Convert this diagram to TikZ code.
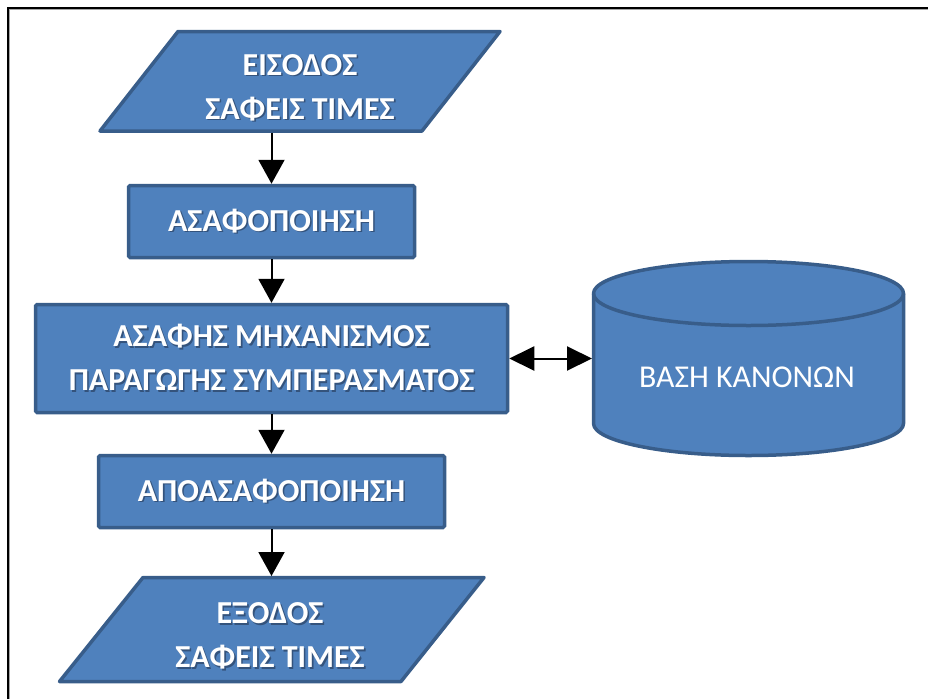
\documentclass[tikz,border=0pt]{standalone}
\usepackage{fontspec}
\setmainfont{Carlito}
\usetikzlibrary{arrows.meta,calc}
\definecolor{shapefill}{HTML}{4F81BD}
\definecolor{shapeline}{HTML}{385D8A}
\definecolor{txtshadow}{HTML}{34537C}
% white caption with a soft drop shadow to the lower right
\newcommand\shline[1]{\makebox[0pt][l]{\kern1.6pt\raisebox{-1.6pt}{\textcolor{txtshadow}{#1}}}#1}

\begin{document}
\begin{tikzpicture}[x=1pt,y=-1pt,
  box/.style={draw=shapeline, fill=shapefill, line width=3.5pt, rounded corners=1.5pt, inner sep=0pt},
  shapeline/.style={draw=shapeline, fill=shapefill, line width=3.5pt, line join=round},
  frame/.style={inner sep=0pt, outer sep=0pt},
  flowtext/.style={text=white, font=\bfseries\fontsize{32}{44}\selectfont, align=center, inner sep=0pt},
  plaintext/.style={text=white, font=\fontsize{31.8}{36}\selectfont, inner sep=0pt},
  flow/.style={line width=2pt, -{Triangle[width=26pt,length=24pt]}},
  biflow/.style={line width=2pt, {Triangle[width=24pt,length=25pt]}-{Triangle[width=24pt,length=25pt]}}]
\useasboundingbox (0,0) rectangle (928,699);

% page border
\draw[black!35, line width=1pt] (9.5,699) -- (9.5,9.5) -- (928,9.5);
\draw[black, line width=2pt] (7.5,699) -- (7.5,7.5) -- (928,7.5);

% input: data parallelogram
\node[frame, minimum width=400pt, minimum height=99.5pt] (in) at (300,81.25) {};
\path[shapeline] ([xshift=78pt]in.north west) -- (in.north east)
  -- ([xshift=-78pt]in.south east) -- (in.south west) -- cycle;
\node[flowtext] (inT) at (300,88.5) {\shline{ΕΙΣΟΔΟΣ}\\\shline{ΣΑΦΕΙΣ ΤΙΜΕΣ}};

% processing steps
\node[box, minimum width=286pt, minimum height=72pt, flowtext] (fuzz) at (271.5,221.5)
  {\shline{ΑΣΑΦΟΠΟΙΗΣΗ}};
\node[box, minimum width=472pt, minimum height=108pt, flowtext] (inf) at (271.5,358.5)
  {\shline{ΑΣΑΦΗΣ ΜΗΧΑΝΙΣΜΟΣ}\\\shline{ΠΑΡΑΓΩΓΗΣ ΣΥΜΠΕΡΑΣΜΑΤΟΣ}};
\node[box, minimum width=346pt, minimum height=72pt, flowtext] (defuzz) at (271.5,491.5)
  {\shline{ΑΠΟΑΣΑΦΟΠΟΙΗΣΗ}};

% output: data parallelogram
\node[frame, minimum width=424.5pt, minimum height=104pt] (out) at (271.75,629.5) {};
\path[shapeline] ([xshift=83.5pt]out.north west) -- (out.north east)
  -- ([xshift=-83pt]out.south east) -- (out.south west) -- cycle;
\node[flowtext] (outT) at (270,637) {\shline{ΕΞΟΔΟΣ}\\\shline{ΣΑΦΕΙΣ ΤΙΜΕΣ}};

% rule base: cylinder
\node[frame, minimum width=310pt, minimum height=194pt] (kb) at (748.5,358.5) {};
\path[shapeline] ([yshift=-32pt]kb.north west) -- ([yshift=32pt]kb.south west)
  arc[start angle=180, end angle=360, x radius=155pt, y radius=32pt]
  -- ([yshift=-32pt]kb.north east)
  arc[start angle=0, end angle=180, x radius=155pt, y radius=32pt] -- cycle;
\draw[draw=shapeline, line width=3.5pt] ([yshift=-32pt]kb.north west)
  arc[start angle=180, end angle=360, x radius=155pt, y radius=32pt];
\node[plaintext] (kbT) at (747,377) {ΒΑΣΗ ΚΑΝΟΝΩΝ};

% connectors
\draw[flow] ([yshift=-1.5pt]in.south -| fuzz.north) -- (fuzz.north);
\draw[flow] (fuzz) -- (inf);
\draw[flow] (inf) -- (defuzz);
\draw[flow] (defuzz.south) -- ([yshift=1.5pt]defuzz.south |- out.north);
\draw[biflow] (inf.east) -- ([xshift=-1.5pt]inf.east -| kb.west);
\end{tikzpicture}
\end{document}
